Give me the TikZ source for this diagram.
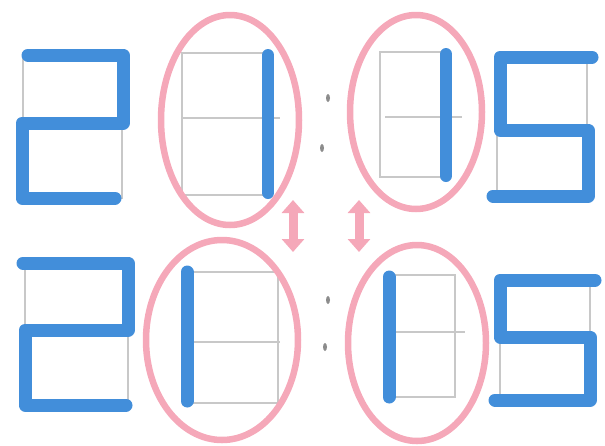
\documentclass[tikz,border=0pt]{standalone}
\usetikzlibrary{arrows.meta}
\definecolor{pen}{RGB}{66,142,218}
\definecolor{ink}{RGB}{200,200,200}
\definecolor{rose}{RGB}{245,168,185}
\begin{document}
\begin{tikzpicture}[x=1pt,y=-1pt,
  seg/.style={draw=pen,line width=13pt,line cap=round,line join=round},
  frame/.style={draw=ink,line width=1.3pt},
  ring/.style={draw=rose,line width=6.5pt},
  dbl/.style={draw=rose,line width=9pt,{Triangle[width=22pt,length=13pt]}-{Triangle[width=22pt,length=13pt]}},
  dotmark/.style={fill=ink!70!black,draw=none}]
\useasboundingbox (0,0) rectangle (605,445);
% ---------- top row ----------
% digit 2
\draw[frame] (23,55) rectangle (122,198) (23,123)--(122,123);
\draw[seg] (28,55)--(123,55)--(123,123)--(22,123)--(22,198)--(115,198);
% digit 1 (right side)
\draw[frame] (182,53) rectangle (268,195) (182,118)--(280,118);
\draw[seg,line width=12pt] (268,55)--(268,193);
\draw[ring] (230,120) ellipse [x radius=69, y radius=105];
% colon
\fill[dotmark] (328,98) ellipse [x radius=2, y radius=4];
\fill[dotmark] (322,148) ellipse [x radius=2, y radius=4];
% digit 1 (right side)
\draw[frame] (380,52) rectangle (446,177) (385,117)--(462,117);
\draw[seg,line width=12pt] (446,54)--(446,176);
\draw[ring] (416,112) ellipse [x radius=66, y radius=97];
% digit 5
\draw[frame] (497,57) rectangle (587,196) (497,130)--(587,130);
\draw[seg] (592,57)--(500,57)--(500,130)--(588,130)--(588,196)--(493,196);
% ---------- arrows ----------
\coordinate (a1) at (293,200); \coordinate (b1) at (293,252);
\coordinate (a2) at (359,200); \coordinate (b2) at (359,252);
\draw[dbl] (a1)--(b1);
\draw[dbl] (a2)--(b2);
% ---------- bottom row ----------
% digit 2
\draw[frame] (25,263) rectangle (128,405) (25,330)--(128,330);
\draw[seg] (23,263)--(128,263)--(128,330)--(25,330)--(25,405)--(126,405);
% digit 1 (left side)
\draw[frame] (187,272) rectangle (278,403) (187,342)--(280,342);
\draw[seg] (187,272)--(187,401);
\draw[ring] (222,340) ellipse [x radius=76, y radius=100];
% colon
\fill[dotmark] (328,300) ellipse [x radius=2, y radius=4];
\fill[dotmark] (325,347) ellipse [x radius=2, y radius=4];
% digit 1 (left side)
\draw[frame] (389,275) rectangle (455,397) (389,332)--(465,332);
\draw[seg] (389,277)--(389,397);
\draw[ring] (417,343) ellipse [x radius=69, y radius=98];
% digit 5
\draw[frame] (500,280) rectangle (590,400) (500,337)--(590,337);
\draw[seg] (595,280)--(500,280)--(500,337)--(590,337)--(590,400)--(495,400);
\end{tikzpicture}
\end{document}
